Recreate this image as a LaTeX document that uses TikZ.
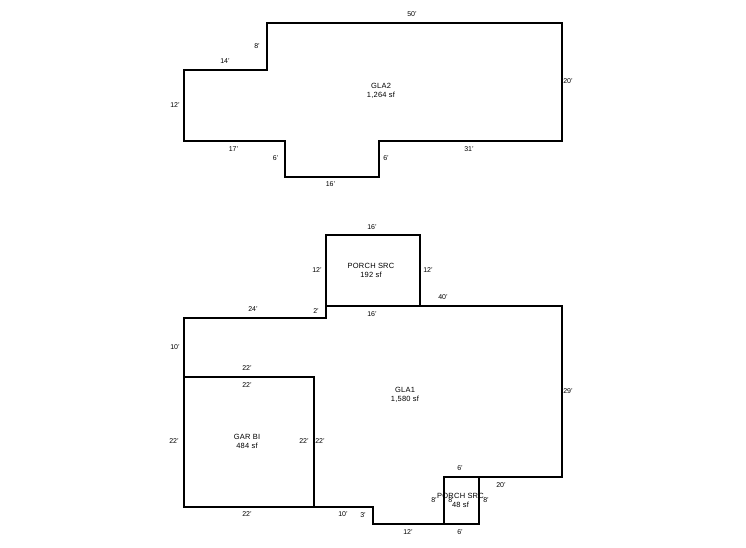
\documentclass[tikz,border=0pt]{standalone}
\usepackage{fontspec}
\setmainfont{Liberation Sans}
\newfontfamily\planfont[LetterSpace = 3]{Liberation Sans}
\tikzset{
	wall/.style = {line width = 1.8pt, line join = miter, line cap = rect},
	dimlabel/.style = {inner sep = 0pt, font = \fontsize{7}{7}\selectfont},
	arealabel/.style = {inner sep = 0pt, align = center, font = \planfont\fontsize{7.5}{9.2}\selectfont}
}
\begin{document}
\begin{tikzpicture}[x = 1pt, y = -1pt]
	\useasboundingbox (0,0) rectangle (746,547);
	\fill[white] (0,0) rectangle (746,547);
	\draw[wall]
	(267,23) -- (562,23) -- (562,141) -- (379,141) -- (379,177) -- (285,177) -- (285,141) -- (184,141) -- (184,70) -- (267,70) -- cycle
	(326,235) rectangle (420,306)
	(184,507) -- (184,318) -- (326,318) -- (326,306) -- (562,306) -- (562,477) -- (479,477)
	(444,524) -- (373,524) -- (373,507) -- (184,507)
	(184,377) rectangle (314,507)
	(444,477) rectangle (479,524)
	;
	\path
	(381,90.5) node[arealabel](GLAtwo){GLA2\\1,264 sf}
	(371,270.5) node[arealabel](PORCHtop){PORCH SRC\\192 sf}
	(405,395) node[arealabel](GLAone){GLA1\\1,580 sf}
	(247,441.5) node[arealabel](GAR){GAR BI\\484 sf}
	(460.5,500.5) node[arealabel](PORCHlow){PORCH SRC\\48 sf}
	;
	\path
	(412,14) node[dimlabel](a1){50'}
	(568,81) node[dimlabel](a2){20'}
	(469,149) node[dimlabel](a3){31'}
	(386,158) node[dimlabel](a4){6'}
	(330.5,184) node[dimlabel](a5){16'}
	(275.5,158) node[dimlabel](a6){6'}
	(233.5,149) node[dimlabel](a7){17'}
	(175,105) node[dimlabel](a8){12'}
	(225,61) node[dimlabel](a9){14'}
	(257,46) node[dimlabel](a10){8'}
	;
	\path
	(372,227) node[dimlabel](b1){16'}
	(317,270) node[dimlabel](b2){12'}
	(428,270) node[dimlabel](b3){12'}
	(372,314) node[dimlabel](b4){16'}
	(443,297) node[dimlabel](c1){40'}
	(568,391) node[dimlabel](c2){29'}
	(501,485) node[dimlabel](c3){20'}
	(408,532) node[dimlabel](c4){12'}
	(363,515) node[dimlabel](c5){3'}
	(343,514) node[dimlabel](c6){10'}
	(320,441) node[dimlabel](c7){22'}
	(247,368) node[dimlabel](c8){22'}
	(175,347) node[dimlabel](c9){10'}
	(253,309) node[dimlabel](c10){24'}
	(316,311) node[dimlabel](c11){2'}
	(247,385) node[dimlabel](d1){22'}
	(304,441) node[dimlabel](d2){22'}
	(247,514) node[dimlabel](d3){22'}
	(174,441) node[dimlabel](d4){22'}
	(460,468) node[dimlabel](e1){6'}
	(486,500) node[dimlabel](e2){8'}
	(460,532) node[dimlabel](e3){6'}
	(434,500) node[dimlabel](e4){8'}
	(451,500) node[dimlabel](e5){8'}
	;
\end{tikzpicture}
\end{document}
